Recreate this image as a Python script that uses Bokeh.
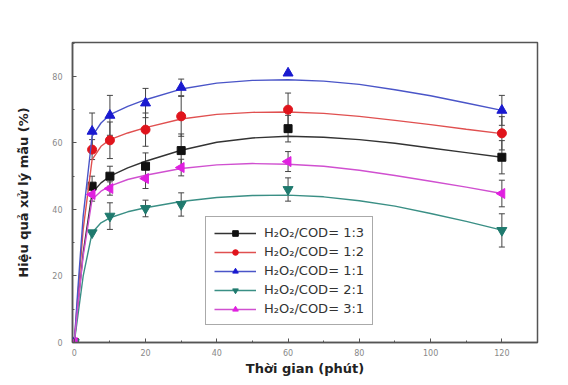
from bokeh.plotting import figure
from bokeh.models import Range1d, Whisker, TeeHead, ColumnDataSource, Legend, LegendItem, FixedTicker
from bokeh.embed import file_html
from bokeh.resources import INLINE
import math

# ---- data ----
t = [0, 5, 10, 20, 30, 60, 120]
r13 = [0, 47, 50, 53, 57.7, 64.3, 55.7]
r12 = [0, 58, 60.8, 64, 68, 70, 62.9]
r11 = [0, 63.5, 68.3, 72, 76.7, 81, 69.8]
r21 = [0, 33, 38, 40.3, 41.5, 46, 33.7]
r31 = [0, 44.5, 46.3, 49.3, 52.6, 54.4, 44.8]

e13 = [0, 3, 3, 4, 5, 4, 5]
e12 = [0, 3, 5.5, 5, 6, 5, 5]
e11 = [0, 5.5, 6, 4.4, 2.5, 0, 4.5]
e21 = [0, 0, 4, 2.5, 3.5, 3.5, 5]
e31 = [0, 2, 2, 3, 2.5, 3, 4]

# fitted curves
tc = [0, 1, 2.5, 5, 7.5, 10, 15, 20, 30, 40, 50, 60, 70, 80, 90, 100, 110, 120]
c11 = [0, 16, 38, 62, 66, 68.5, 71, 73, 76.2, 78, 78.8, 79, 78.6, 77.6, 76, 74.2, 72, 69.8]
c12 = [0, 14, 34, 55, 59, 61, 63, 64.6, 67.2, 68.6, 69.2, 69.3, 68.9, 68, 66.8, 65.5, 64.1, 62.8]
c13 = [0, 11, 27, 45, 48, 50, 52.5, 54.5, 57.8, 60.2, 61.5, 62, 61.7, 61, 59.9, 58.5, 57.1, 55.7]
c31 = [0, 11, 26, 43, 45.5, 47, 49, 50.3, 52.3, 53.4, 53.8, 53.6, 53, 51.8, 50.2, 48.5, 46.7, 44.8]
c21 = [0, 8, 20, 33, 36, 37.5, 39.3, 40.5, 42.4, 43.6, 44.2, 44.3, 43.8, 42.6, 41, 38.8, 36.4, 33.8]

labels = ["H\u2082O\u2082/COD= 1:3", "H\u2082O\u2082/COD= 1:2", "H\u2082O\u2082/COD= 1:1",
          "H\u2082O\u2082/COD= 2:1", "H\u2082O\u2082/COD= 3:1"]
x_ticks = [0, 20, 40, 60, 80, 100, 120]
y_ticks = [0, 20, 40, 60, 80]

series = [
    (r13, e13, c13, "#111111", "#333333", "square", 0.0, 8),
    (r12, e12, c12, "#e0141c", "#e05050", "circle", 0.0, 9),
    (r11, e11, c11, "#1a1ad0", "#4a55c8", "triangle", 0.0, 10),
    (r21, e21, c21, "#1f7a6e", "#3a8f85", "inverted_triangle", 0.0, 10),
    (r31, e31, c31, "#e020e0", "#d050d0", "triangle", math.pi / 2, 10),
]

p = figure(width=568, height=385, output_backend="svg", toolbar_location=None,
           x_range=Range1d(-0.5, 130), y_range=Range1d(0, 90.2),
           min_border_left=72, min_border_right=31, min_border_top=42, min_border_bottom=43)
p.xgrid.visible = False
p.ygrid.visible = False
p.outline_line_color = "#555555"
p.outline_line_width = 1.5
p.background_fill_color = "white"
p.border_fill_color = "white"

items = []
for (vals, errs, curve, col, ccol, marker, ang, sz), lab in zip(series, labels):
    lo = [v - e for v, e in zip(vals, errs)]
    hi = [v + e for v, e in zip(vals, errs)]
    src = ColumnDataSource(dict(t=t, y=vals, lo=lo, hi=hi))
    w = Whisker(source=src, base="t", lower="lo", upper="hi", line_color="#444444", line_width=1,
                upper_head=TeeHead(size=6, line_color="#444444", line_width=1),
                lower_head=TeeHead(size=6, line_color="#444444", line_width=1))
    p.add_layout(w)
    lr = p.line(tc, curve, line_color=ccol, line_width=1.4)
    sr = p.scatter("t", "y", source=src, marker=marker, size=sz, angle=ang,
                   fill_color=col, line_color=col)
    items.append(LegendItem(label=lab, renderers=[lr, sr]))

legend = Legend(items=items, location=(133, 17))
legend.label_text_font = "DejaVu Sans"
legend.label_text_font_size = "13px"
legend.label_text_color = "#333333"
legend.glyph_width = 42
legend.glyph_height = 14
legend.label_height = 14
legend.spacing = 4
legend.padding = 8
legend.margin = 0
legend.label_standoff = 8
legend.border_line_color = "#555555"
legend.border_line_width = 1.5
legend.background_fill_alpha = 1
p.add_layout(legend, "center")

for ax in (p.xaxis[0], p.yaxis[0]):
    ax.major_tick_in = 4
    ax.major_tick_out = 0
    ax.minor_tick_in = 2
    ax.minor_tick_out = 0
    ax.axis_line_color = "#555555"
    ax.axis_line_width = 1.5
    ax.major_tick_line_color = "#555555"
    ax.minor_tick_line_color = "#555555"
    ax.major_label_text_font = "DejaVu Sans"
    ax.major_label_text_font_size = "8px"
    ax.major_label_text_color = "#888888"
    ax.axis_label_text_font = "DejaVu Sans"
    ax.axis_label_text_font_style = "bold"
    ax.axis_label_text_font_size = "13px"
    ax.axis_label_text_color = "#222222"

p.xaxis[0].ticker = FixedTicker(ticks=x_ticks, minor_ticks=list(range(0, 131, 10)))
p.yaxis[0].ticker = FixedTicker(ticks=y_ticks, minor_ticks=list(range(0, 91, 10)))
p.xaxis[0].axis_label = "Thời gian (phút)"
p.yaxis[0].axis_label = "Hiệu quả xử lý mẫu (%)"
p.xaxis[0].axis_label_standoff = 2
p.yaxis[0].axis_label_standoff = 18
p.xaxis[0].major_label_standoff = 6
p.yaxis[0].major_label_standoff = 10

open("out.html", "w").write(file_html(p, INLINE))
